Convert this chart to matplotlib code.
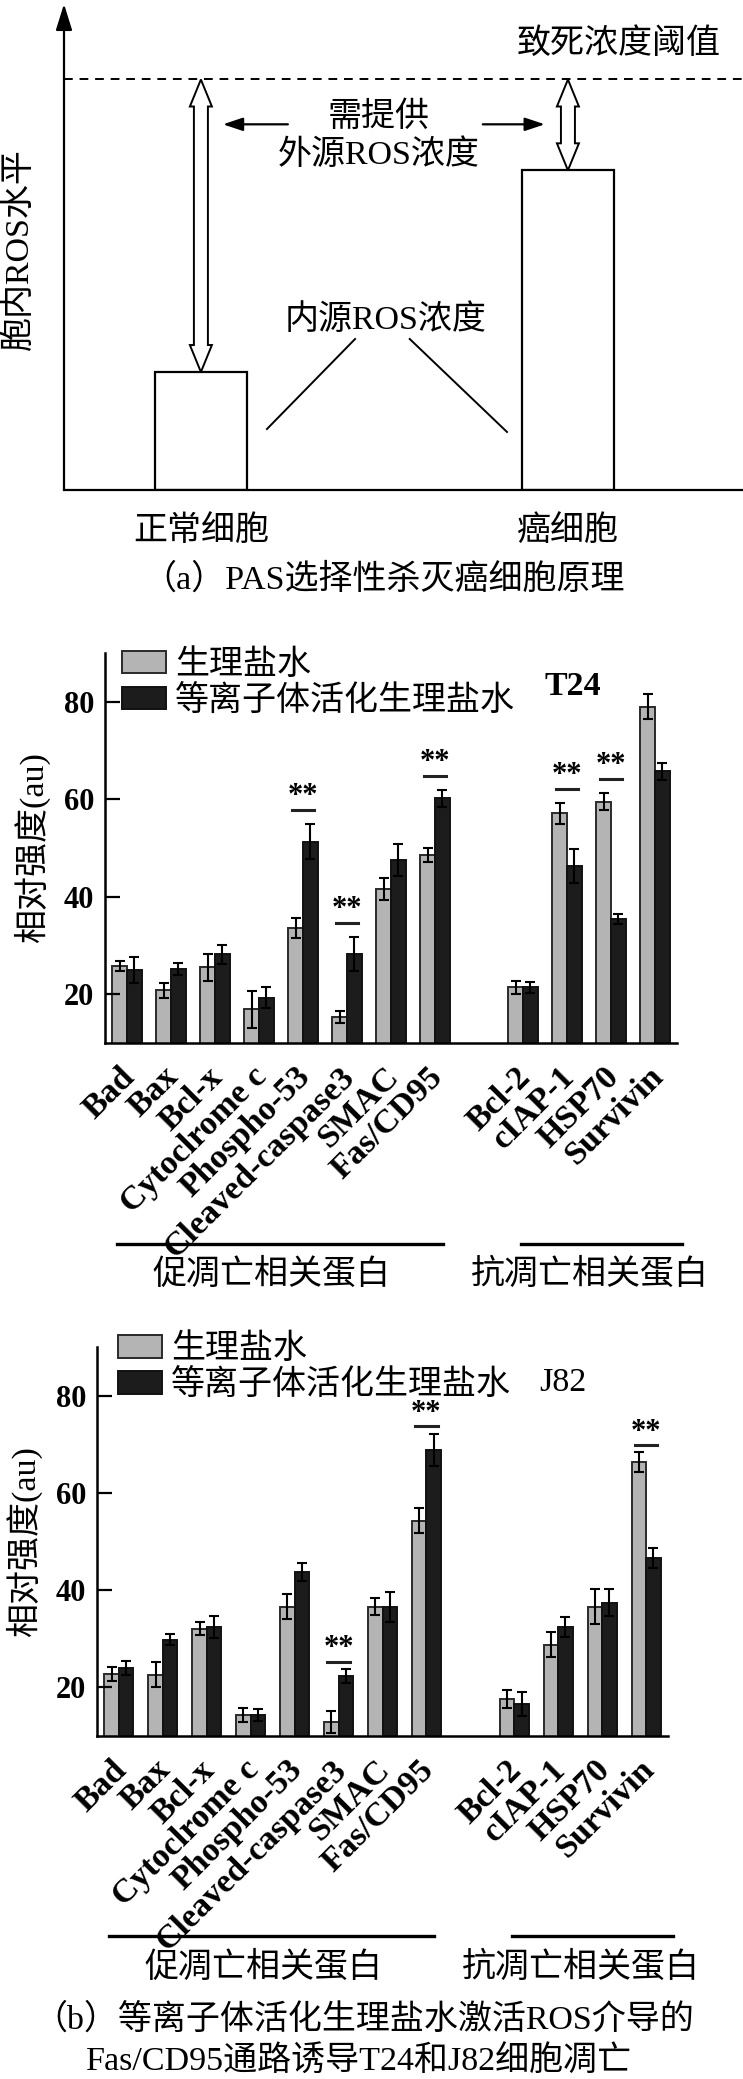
import numpy as np
import matplotlib
matplotlib.use('Agg')
import matplotlib.pyplot as plt
import matplotlib.transforms as mtransforms
from matplotlib.patches import Polygon

plt.rcParams['font.family'] = ['Liberation Serif', 'Noto Sans CJK SC']

W, H = 743, 2079

# panel (a): schematic ROS levels
cells = ['正常细胞', '癌细胞']
ros_level = [1.0, 2.71]
lethal = 3.48

# panel (b): relative intensity of apoptosis proteins
proteins = ['Bad', 'Bax', 'Bcl-x', 'Cytoclrome c', 'Phospho-53', 'Cleaved-caspase3',
            'SMAC', 'Fas/CD95', 'Bcl-2', 'cIAP-1', 'HSP70', 'Survivin']
positions = [0, 1, 2, 3, 4, 5, 6, 7, 9, 10, 11, 12]
series_names = ['生理盐水', '等离子体活化生理盐水']

t24_saline = [25.8, 20.8, 25.5, 16.9, 33.6, 15.4, 41.6, 48.5, 21.4, 57.1, 59.5, 79.0]
t24_saline_err = [1.0, 1.6, 2.7, 3.8, 2.0, 1.2, 2.3, 1.4, 1.3, 2.1, 1.7, 2.5]
t24_pas = [25.0, 25.2, 28.2, 19.3, 51.3, 28.2, 47.5, 60.2, 21.4, 46.3, 35.5, 65.7]
t24_pas_err = [2.6, 1.3, 2.0, 2.1, 3.6, 3.5, 3.3, 1.7, 1.2, 3.4, 1.0, 1.7]
t24_sig = [4, 5, 7, 9, 10]

j82_saline = [22.8, 22.6, 32.1, 14.3, 36.6, 12.9, 36.6, 54.3, 17.6, 28.8, 36.6, 66.3]
j82_saline_err = [1.4, 2.6, 1.4, 1.5, 2.6, 2.3, 1.7, 2.6, 1.9, 2.6, 3.6, 2.1]
j82_pas = [24.0, 29.8, 32.4, 14.3, 43.7, 22.4, 36.6, 68.9, 16.6, 32.4, 37.4, 46.6]
j82_pas_err = [1.4, 1.1, 2.2, 1.2, 1.8, 1.4, 3.1, 3.3, 2.4, 2.1, 2.8, 2.1]
j82_sig = [5, 7, 11]

groups = ['促凋亡相关蛋白', '抗凋亡相关蛋白']

FS = 24.5

fig = plt.figure(figsize=(W / 100, H / 100), dpi=100)


def px_axes(l, t, r, b):
    return fig.add_axes([l / W, 1 - b / H, (r - l) / W, (b - t) / H])


def hollow_arrow(ax, x, y0, y1):
    # double headed open arrow between two data heights
    cx, lo = ax.transData.transform((x, y0))
    hi = ax.transData.transform((x, y1))[1]
    s, h, L = 7, 11, 27
    pts = [(cx, hi), (cx + h, hi - L), (cx + s, hi - L), (cx + s, lo + L), (cx + h, lo + L),
           (cx, lo), (cx - h, lo + L), (cx - s, lo + L), (cx - s, hi - L), (cx - h, hi - L)]
    ax.add_patch(Polygon(pts, closed=True, fill=False, ec='black', lw=1.4,
                         transform=mtransforms.IdentityTransform(), clip_on=False))


# ---- (a)
ax = px_axes(64, 4, 743, 490)
ax.set_xlim(-0.373, 1.477)
ax.set_ylim(0, 4.12)
ax.bar(range(len(cells)), ros_level, width=0.25, color='white', edgecolor='black', linewidth=1.6)
ax.axhline(lethal, color='black', lw=1.4, dashes=(4.5, 3.5))
for s in ['top', 'right', 'left']:
    ax.spines[s].set_visible(False)
ax.spines['bottom'].set_linewidth(1.6)
ax.annotate('', xy=(0, 1), xytext=(0, 0), xycoords='axes fraction',
            arrowprops=dict(arrowstyle='-|>,head_length=0.8,head_width=0.25', lw=1.6,
                            color='black', mutation_scale=20, shrinkA=0, shrinkB=0))
ax.set_xticks(range(len(cells)), cells, fontsize=FS)
ax.set_yticks([])
ax.tick_params(axis='x', length=0, pad=18)

for i, v in enumerate(ros_level):
    hollow_arrow(ax, i, v, lethal)

ax.text(1.139, 3.78, '致死浓度阈值', ha='center', va='center', fontsize=FS)
ax.text(0.485, 3.16, '需提供', ha='center', va='center', fontsize=FS)
ax.text(0.485, 2.84, '外源ROS浓度', ha='center', va='center', fontsize=FS)
ax.text(0.504, 1.44, '内源ROS浓度', ha='center', va='center', fontsize=FS)
arr = dict(arrowstyle='-|>,head_length=0.6,head_width=0.2', lw=1.6, color='black',
           mutation_scale=20, shrinkA=0, shrinkB=0)
ax.annotate('', xy=(0.06, 3.10), xytext=(0.237, 3.10), arrowprops=arr)
ax.annotate('', xy=(0.937, 3.10), xytext=(0.768, 3.10), arrowprops=arr)
ax.plot([0.42, 0.18], [1.28, 0.517], color='black', lw=1.4)
ax.plot([0.569, 0.834], [1.28, 0.492], color='black', lw=1.4)

fig.text(19 / W, 1 - 249 / H, '胞内ROS水平', rotation=90, ha='center', va='center', fontsize=FS)
fig.text(384 / W, 1 - 580 / H, '（a）PAS选择性杀灭癌细胞原理', ha='center', va='center', fontsize=FS)


# ---- (b)
def draw_panel(box, saline, saline_err, pas, pas_err, sig, gap, star_gap, cell, cell_xy,
               cell_weight, leg_anchor):
    ax = px_axes(*box)
    x = np.array(positions, dtype=float)
    w = 0.33
    ax.bar(x - w / 2, saline, w, color='#b4b4b4', edgecolor='#2a2a2a', lw=1.4, label=series_names[0])
    ax.bar(x + w / 2, pas, w, color='#1c1c1c', edgecolor='#111111', lw=1.4, label=series_names[1])
    ax.errorbar(x - w / 2, saline, yerr=saline_err, fmt='none', ecolor='black',
                elinewidth=1.5, capsize=3.5, capthick=1.5)
    ax.errorbar(x + w / 2, pas, yerr=pas_err, fmt='none', ecolor='black',
                elinewidth=1.5, capsize=3.5, capthick=1.5)
    ax.set_xlim(-0.5, 12.5)
    ax.set_ylim(10, 90)
    for s in ['top', 'right']:
        ax.spines[s].set_visible(False)
    for s in ['left', 'bottom']:
        ax.spines[s].set_linewidth(1.8)

    for i in sig:
        top = max(saline[i] + saline_err[i], pas[i] + pas_err[i]) + gap
        ax.plot([x[i] - 0.26, x[i] + 0.26], [top, top], color='#222222', lw=2.2)
        ax.text(x[i], top + star_gap, '**', ha='center', va='center', fontsize=22,
                fontweight='bold')

    ax.set_yticks([20, 40, 60, 80])
    ax.tick_params(axis='y', direction='in', length=11, width=1.6, labelsize=22, pad=8)
    for lab in ax.get_yticklabels():
        lab.set_fontweight('bold')
    ax.set_ylabel('相对强度(au)', fontsize=FS, va='center')
    ax.yaxis.set_label_coords(-0.128, 0.5)

    # pad first: tick_params resets the label transforms
    ax.tick_params(axis='x', length=0, pad=21)
    ax.set_xticks(x)
    ax.set_xticklabels(proteins, rotation=45, ha='right', va='center',
                       rotation_mode='anchor', fontsize=24.5, fontweight='bold')
    shift = mtransforms.ScaledTranslation(0.03, 0, fig.dpi_scale_trans)
    for lab in ax.get_xticklabels():
        lab.set_transform(lab.get_transform() + shift)

    ax.text(cell_xy[0], cell_xy[1], cell, ha='center', va='center', fontsize=FS,
            fontweight=cell_weight)
    ax.legend(loc='upper left', bbox_to_anchor=leg_anchor, frameon=False, fontsize=FS,
              handlelength=1.3, handleheight=0.65, handletextpad=0.26, labelspacing=0.12,
              borderpad=0, borderaxespad=0)

    tr = mtransforms.blended_transform_factory(ax.transData, ax.transAxes)
    pro = [p for p in positions if p < 8]
    anti = [p for p in positions if p > 8]
    ax.plot([pro[0] - 0.23, pro[-1] + 0.18], [-0.515, -0.515], color='black', lw=2.4,
            transform=tr, clip_on=False)
    ax.plot([anti[0] - 0.05, anti[-1] + 0.62], [-0.515, -0.515], color='black', lw=2.4,
            transform=tr, clip_on=False)
    ax.text(np.mean(pro) - 0.22, -0.595, groups[0], ha='center', va='center', fontsize=FS,
            transform=tr)
    ax.text(np.mean(anti) + 0.02, -0.595, groups[1], ha='center', va='center', fontsize=FS,
            transform=tr)
    return ax


draw_panel((105, 653, 677, 1043), t24_saline, t24_saline_err, t24_pas, t24_pas_err, t24_sig,
           2.9, 2.8, 'T24', (10.14, 83.1), 'bold', (0.03, 1.01))
draw_panel((97, 1347, 668, 1736), j82_saline, j82_saline_err, j82_pas, j82_pas_err, j82_sig,
           1.5, 2.6, 'J82', (10.1, 82.7), 'normal', (0.037, 1.035))

fig.text(364 / W, 1 - 2020 / H, '（b）等离子体活化生理盐水激活ROS介导的', ha='center', va='center', fontsize=FS)
fig.text(359 / W, 1 - 2062 / H, 'Fas/CD95通路诱导T24和J82细胞凋亡', ha='center', va='center', fontsize=FS)

fig.savefig('out.png', dpi=100)
